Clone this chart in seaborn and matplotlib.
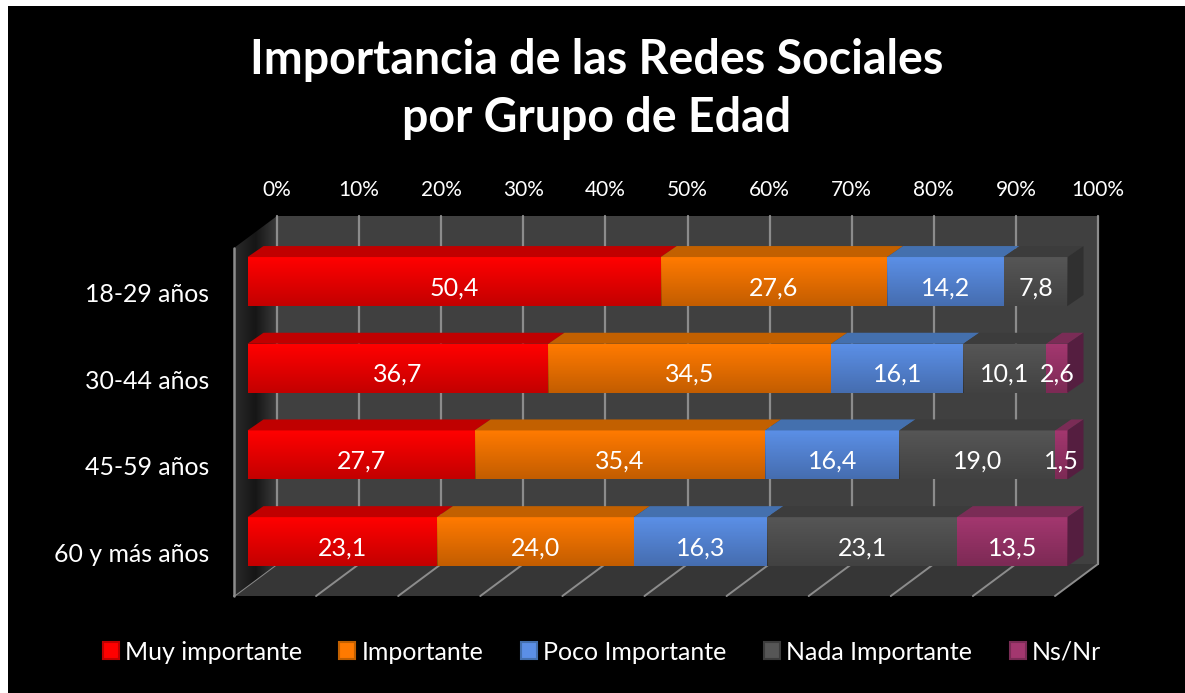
# plot.py - stacked 3D-look bars, importancia de las redes sociales
import numpy as np
import pandas as pd
import seaborn as sns
import matplotlib
matplotlib.use("Agg")
import matplotlib.pyplot as plt
from matplotlib.colors import LinearSegmentedColormap
from matplotlib.lines import Line2D
from matplotlib.patches import Polygon, Rectangle
from matplotlib.transforms import ScaledTranslation

grupos = ["18-29 años", "30-44 años", "45-59 años", "60 y más años"]
series = ["Muy importante", "Importante", "Poco Importante", "Nada Importante", "Ns/Nr"]
muy_importante = [50.4, 36.7, 27.7, 23.1]
importante = [27.6, 34.5, 35.4, 24.0]
poco_importante = [14.2, 16.1, 16.4, 16.3]
nada_importante = [7.8, 10.1, 19.0, 23.1]
ns_nr = [0.0, 2.6, 1.5, 13.5]
pct_ticks = list(range(0, 101, 10))

front_colors = ["#ff0000", "#ff7a00", "#5b8fe6", "#565656", "#a3376f"]
top_colors = ["#c00000", "#c26000", "#4470ae", "#3c3c3c", "#7a2c56"]
side_colors = ["#900000", "#904800", "#335580", "#303030", "#551e40"]

W, H = 1185, 693
BAR_WIDTH = 0.565
DX = 16 / 8.2    # bar depth, in % units
DY = 11 / 86.67  # bar depth, in category units

sns.set_theme(style="dark")
plt.rcParams["font.family"] = ["Lato", "DejaVu Sans"]

values = np.array([muy_importante, importante, poco_importante, nada_importante, ns_nr])
acum = values.cumsum(axis=0)
df = pd.DataFrame({
    "grupo": grupos * len(series),
    "serie": np.repeat(series, len(grupos)),
    "acum": acum.ravel(),
})


def fx(px):
    return px / W


def fy(py):
    return 1 - py / H


fig = plt.figure(figsize=(W / 100, H / 100), dpi=100, facecolor="white")
fig.add_artist(Rectangle((fx(8), 0), 1 - fx(8), fy(6), transform=fig.transFigure,
                         facecolor="black", edgecolor="none", zorder=-5))

# back wall, carries the % axis and the gridlines
wall = fig.add_axes([fx(277), fy(564), fx(821), fy(216) - fy(564)], facecolor="#404040", zorder=0)
wall.set_xlim(0, 100)
wall.set_ylim(0, 1)
wall.set_xticks(pct_ticks, [f"{p}%" for p in pct_ticks])
wall.set_yticks([])
wall.xaxis.tick_top()
wall.tick_params(axis="x", length=0, pad=11.5, labelsize=15, colors="white")
wall.grid(False)
for p in pct_ticks:
    wall.axvline(p, color="#8c8c8c", lw=1.6, clip_on=False)
for s in wall.spines.values():
    s.set_visible(False)

# floor and left wall
fig.add_artist(Polygon([(fx(234), fy(596)), (fx(277), fy(564)), (fx(1098), fy(564)), (fx(1055), fy(596))],
                       transform=fig.transFigure, facecolor="#363636", edgecolor="none", zorder=-2))
side_ax = fig.add_axes([fx(234), fy(596), fx(43), fy(216) - fy(596)], zorder=-1)
side_ax.axis("off")
wall_cmap = LinearSegmentedColormap.from_list("pared", ["#2a2a2a", "#161616", "#3a3a3a"])
grad = side_ax.imshow(np.linspace(0, 1, 43)[None, :], cmap=wall_cmap, aspect="auto")
grad.set_clip_path(Polygon([(fx(234), fy(248)), (fx(277), fy(216)), (fx(277), fy(564)), (fx(234), fy(596))],
                           transform=fig.transFigure))
for p in pct_ticks:
    back = 277 + 8.21 * p
    fig.add_artist(Line2D([fx(back), fx(back - 43)], [fy(564), fy(596)], transform=fig.transFigure,
                          color="#8c8c8c", lw=1.4, zorder=-1))
fig.add_artist(Line2D([fx(234), fx(234)], [fy(248), fy(596)], transform=fig.transFigure,
                      color="#8c8c8c", lw=1.8, zorder=2))

# bars on top of the wall
ax = fig.add_axes([fx(247.5), fy(585), fx(820), fy(238.2) - fy(585)], facecolor="none", zorder=1)
sns.barplot(data=df, x="acum", y="grupo", hue="serie", order=grupos, hue_order=series[::-1],
            palette=dict(zip(series, front_colors)), dodge=False, width=BAR_WIDTH,
            linewidth=0, saturation=1, ax=ax)
handles, labels = ax.get_legend_handles_labels()
ax.get_legend().remove()

shade = np.zeros((64, 1, 4))
shade[:, 0, 3] = np.linspace(0, 0.24, 64)
hw = BAR_WIDTH / 2
for i in range(len(grupos)):
    left = 0.0
    last = np.nonzero(values[:, i])[0][-1]
    for j in range(len(series)):
        right = acum[j, i]
        if values[j, i] > 0:
            ax.add_patch(Polygon([(left, i - hw), (right, i - hw), (right + DX, i - hw - DY), (left + DX, i - hw - DY)],
                                 facecolor=top_colors[j], edgecolor="none", clip_on=False, zorder=2))
            ax.imshow(shade, extent=(left, right, i + hw, i - hw), origin="upper", aspect="auto", zorder=3)
            ax.text((left + right) / 2, i + 0.07, f"{values[j, i]:.1f}".replace(".", ","), color="white",
                    ha="center", va="center", fontsize=18, zorder=5)
        left = right
    ax.add_patch(Polygon([(100, i - hw), (100 + DX, i - hw - DY), (100 + DX, i + hw - DY), (100, i + hw)],
                         facecolor=side_colors[last], edgecolor="none", clip_on=False, zorder=2))

ax.set_xlim(0, 100)
ax.set_ylim(3.5, -0.5)
ax.set_xticks([])
ax.set_xlabel("")
ax.set_ylabel("")
ax.tick_params(axis="y", length=0, pad=27.5, labelsize=17.9, colors="white")
# group labels sit a little under the bar centre
shift = ScaledTranslation(0, -11 / 100, fig.dpi_scale_trans)
for lab in ax.get_yticklabels():
    lab.set_transform(lab.get_transform() + shift)
for s in ax.spines.values():
    s.set_visible(False)

fig.text(fx(597), fy(60), "Importancia de las Redes Sociales", color="white", fontsize=33.5,
         fontweight="bold", ha="center", va="center")
fig.text(fx(597), fy(118), "por Grupo de Edad", color="white", fontsize=33.5,
         fontweight="bold", ha="center", va="center")

leg = fig.legend(handles[::-1], labels[::-1], ncol=5, loc="center", bbox_to_anchor=(fx(602), fy(652)),
                 frameon=False, labelcolor="white", fontsize=18, handlelength=0.64, handleheight=0.64,
                 handletextpad=0.25, columnspacing=1.5)
for patch, col in zip(leg.get_patches(), top_colors):
    patch.set_edgecolor(col)
    patch.set_linewidth(1.5)

fig.savefig("out.png", dpi=100, facecolor=fig.get_facecolor())
